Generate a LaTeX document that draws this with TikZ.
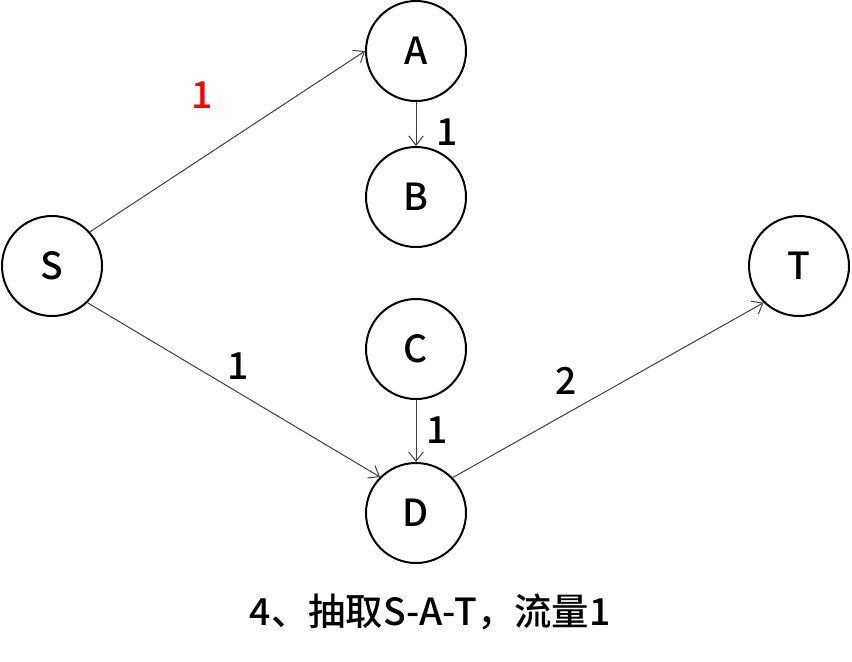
\documentclass[tikz,border=0pt]{standalone}
\usepackage{fontspec}
\setmainfont{Noto Sans CJK SC}[UprightFont={* Medium}]
\usetikzlibrary{arrows.meta}
\tikzset{
  vertex/.style={circle, draw=black, line width=1.5pt, minimum size=75pt, inner sep=0pt, font=\fontsize{28}{30}\selectfont},
  edge/.style={draw=black!75, line width=0.75pt, -{Straight Barb[length=7pt,width=11pt,line width=0.75pt]}},
  lbl/.style={font=\fontsize{28}{30}\selectfont, inner sep=0pt},
}
\begin{document}
\begin{tikzpicture}[x=0.75pt,y=-0.75pt]
\useasboundingbox (0,0) rectangle (852,661);
\node[vertex] (A) at (416,51) {A};
\node[vertex] (B) at (416,197) {B};
\node[vertex] (S) at (52,266) {S};
\node[vertex] (T) at (799,266) {T};
\node[vertex] (C) at (416,349) {C};
\node[vertex] (D) at (416,513) {D};
\draw[edge] (S.42) -- (A.west);
\draw[edge] (A.south) -- (B.north);
\draw[edge] (S.-46) -- (D.135);
\draw[edge] (C.south) -- (D.north);
\draw[edge] (D.44) -- (T.-134);
\node[lbl, text=red] (lSA) at (202,95) {1};
\node[lbl] (lAB) at (447,132) {1};
\node[lbl] (lSD) at (238,366) {1};
\node[lbl] (lCD) at (437,430) {1};
\node[lbl] (lDT) at (566,381) {2};
\node[lbl] (cap) at (430,612) {4、抽取S-A-T，流量1};
\end{tikzpicture}
\end{document}
